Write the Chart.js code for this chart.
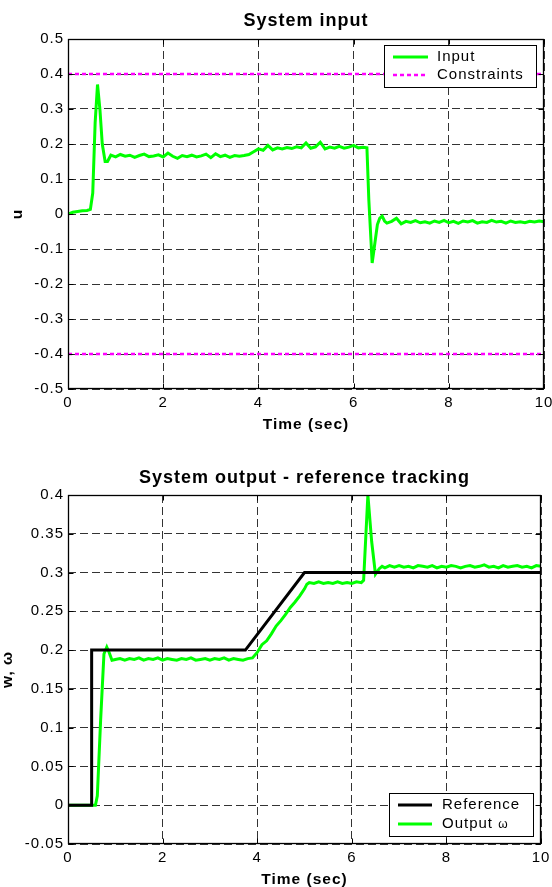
<!DOCTYPE html>
<html>
<head>
<meta charset="utf-8">
<title>System input / output</title>
<script src="https://cdn.jsdelivr.net/npm/chart.js@4.4.1/dist/chart.umd.min.js"></script>
<style>
    html, body { margin: 0; padding: 0; background: #fff; }
    #wrap { width: 552px; height: 887px; position: relative; }
    canvas { display: block; position: absolute; left: 0; }
    #inputChart { top: 0; }
    #outputChart { top: 440px; }
</style>
</head>
<body>
<div id="wrap">
    <canvas id="inputChart" width="552" height="440"></canvas>
    <canvas id="outputChart" width="552" height="447"></canvas>
</div>
<script>
// ---------- data ----------
const xTicks = [0, 2, 4, 6, 8, 10];
const xTickLabels = ["0", "2", "4", "6", "8", "10"];

const uTicks = [-0.5, -0.4, -0.3, -0.2, -0.1, 0, 0.1, 0.2, 0.3, 0.4, 0.5];
const uTickLabels = ["-0.5", "-0.4", "-0.3", "-0.2", "-0.1", "0", "0.1", "0.2", "0.3", "0.4", "0.5"];

const wTicks = [-0.05, 0, 0.05, 0.1, 0.15, 0.2, 0.25, 0.3, 0.35, 0.4];
const wTickLabels = ["-0.05", "0", "0.05", "0.1", "0.15", "0.2", "0.25", "0.3", "0.35", "0.4"];

// system input u(t)
const inputTime = [
    0, 0.1, 0.2, 0.3, 0.4, 0.47, 0.52, 0.57, 0.62, 0.67, 0.72, 0.78, 0.83, 0.9,
    1.0, 1.1, 1.2, 1.3, 1.4, 1.5, 1.6, 1.7, 1.8, 1.9,
    2.0, 2.1, 2.2, 2.3, 2.4, 2.5, 2.6, 2.7, 2.8, 2.9,
    3.0, 3.1, 3.2, 3.3, 3.4, 3.5, 3.6, 3.7, 3.8, 3.9,
    4.0, 4.1, 4.2, 4.3, 4.4, 4.5, 4.6, 4.7, 4.8, 4.9,
    5.0, 5.1, 5.2, 5.3, 5.4, 5.5, 5.6, 5.7, 5.8, 5.9,
    6.0, 6.1, 6.2, 6.28, 6.32, 6.39, 6.45, 6.5, 6.55, 6.6, 6.65, 6.7, 6.8, 6.9,
    7.0, 7.1, 7.2, 7.3, 7.4, 7.5, 7.6, 7.7, 7.8, 7.9,
    8.0, 8.1, 8.2, 8.3, 8.4, 8.5, 8.6, 8.7, 8.8, 8.9,
    9.0, 9.1, 9.2, 9.3, 9.4, 9.5, 9.6, 9.7, 9.8, 9.9, 10.0
];
const inputU = [
    0.000, 0.005, 0.007, 0.009, 0.010, 0.013, 0.060, 0.260, 0.370, 0.300, 0.200, 0.150, 0.150, 0.168,
    0.163, 0.170, 0.165, 0.168, 0.162, 0.167, 0.171, 0.164, 0.166, 0.169,
    0.163, 0.174, 0.165, 0.159, 0.167, 0.164, 0.168, 0.163, 0.166, 0.171,
    0.161, 0.172, 0.164, 0.168, 0.162, 0.167, 0.165, 0.167, 0.170, 0.178,
    0.186, 0.182, 0.196, 0.183, 0.189, 0.186, 0.190, 0.187, 0.192, 0.189,
    0.203, 0.188, 0.192, 0.205, 0.186, 0.191, 0.188, 0.193, 0.188, 0.191,
    0.196, 0.189, 0.191, 0.189, 0.040, -0.140, -0.080, -0.030, -0.012, -0.006, -0.020, -0.026, -0.021, -0.012,
    -0.028, -0.021, -0.024, -0.019, -0.025, -0.022, -0.026, -0.020, -0.024, -0.018,
    -0.025, -0.021, -0.027, -0.020, -0.023, -0.019, -0.026, -0.022, -0.024, -0.018,
    -0.023, -0.021, -0.026, -0.020, -0.024, -0.022, -0.025, -0.021, -0.023, -0.020, -0.022
];

// input constraints
const limitTime = [0, 10];
const upperLimit = [0.4, 0.4];
const lowerLimit = [-0.4, -0.4];

// reference w(t)
const refTime = [0, 0.5, 0.5, 3.75, 5.0, 10];
const refW = [0, 0, 0.2, 0.2, 0.3, 0.3];

// output omega(t)
const outputTime = [
    0, 0.58, 0.62, 0.69, 0.76, 0.82, 0.87, 0.93,
    1.0, 1.1, 1.2, 1.3, 1.4, 1.5, 1.6, 1.7, 1.8, 1.9,
    2.0, 2.1, 2.2, 2.3, 2.4, 2.5, 2.6, 2.7, 2.8, 2.9,
    3.0, 3.1, 3.2, 3.3, 3.4, 3.5, 3.6, 3.7, 3.8, 3.9,
    4.0, 4.1, 4.2, 4.3, 4.4, 4.5, 4.6, 4.7, 4.8, 4.9,
    5.0, 5.05, 5.1, 5.2, 5.3, 5.4, 5.5, 5.6, 5.7, 5.8, 5.9,
    6.0, 6.1, 6.2, 6.25, 6.34, 6.42, 6.5, 6.58, 6.64, 6.7, 6.8, 6.9,
    7.0, 7.1, 7.2, 7.3, 7.4, 7.5, 7.6, 7.7, 7.8, 7.9,
    8.0, 8.1, 8.2, 8.3, 8.4, 8.5, 8.6, 8.7, 8.8, 8.9,
    9.0, 9.1, 9.2, 9.3, 9.4, 9.5, 9.6, 9.7, 9.8, 9.9, 10.0
];
const outputW = [
    0, 0, 0.012, 0.110, 0.195, 0.204, 0.197, 0.187,
    0.188, 0.189, 0.187, 0.189, 0.188, 0.190, 0.187, 0.189, 0.188, 0.190,
    0.187, 0.189, 0.188, 0.187, 0.189, 0.188, 0.190, 0.187, 0.188, 0.189,
    0.187, 0.189, 0.188, 0.190, 0.187, 0.189, 0.188, 0.187, 0.189, 0.190,
    0.197, 0.207, 0.212, 0.221, 0.231, 0.238, 0.246, 0.255, 0.262, 0.270,
    0.279, 0.285, 0.287, 0.286, 0.288, 0.286, 0.287, 0.286, 0.288, 0.286, 0.287,
    0.286, 0.288, 0.287, 0.290, 0.400, 0.340, 0.298, 0.305, 0.308, 0.306, 0.309, 0.307,
    0.309, 0.307, 0.308, 0.306, 0.309, 0.308, 0.307, 0.309, 0.306, 0.308,
    0.307, 0.309, 0.308, 0.306, 0.308, 0.309, 0.307, 0.308, 0.310, 0.307,
    0.308, 0.306, 0.309, 0.307, 0.308, 0.309, 0.307, 0.308, 0.306, 0.309, 0.308
];

// ---------- helpers ----------
const FONT = "'Liberation Sans', Arial, Helvetica, sans-serif";
const GREEN = "#00ff00";

Chart.defaults.color = "#000";
Chart.defaults.font.family = FONT;

function toPoints(xs, ys) {
    return xs.map((x, i) => ({ x: x, y: ys[i] }));
}

// MATLAB-ish text is a little wider than plain Arial
const spacing = {
    id: "spacing",
    beforeUpdate(chart) { chart.ctx.letterSpacing = "1px"; },
    beforeDraw(chart) { chart.ctx.letterSpacing = "1px"; }
};

// centre the title over the axes, not over the whole canvas
const titleOverAxes = {
    id: "titleOverAxes",
    afterLayout(chart) {
        const tb = chart.titleBlock;
        if (!tb) return;
        tb.left = chart.chartArea.left;
        tb.right = chart.chartArea.right;
        tb.width = tb.right - tb.left;
    }
};

// solid box around the axes plus inward tick marks
const frame = {
    id: "frame",
    afterDatasetsDraw(chart) {
        const { ctx, chartArea, scales } = chart;
        const l = Math.round(chartArea.left) + 0.5;
        const r = Math.round(chartArea.right) - 0.5;
        const t = Math.round(chartArea.top) + 0.5;
        const b = Math.round(chartArea.bottom) - 0.5;
        ctx.save();
        ctx.setLineDash([]);
        ctx.strokeStyle = "#000";
        ctx.lineWidth = 1;
        ctx.beginPath();
        scales.x.ticks.forEach(tick => {
            const px = Math.round(scales.x.getPixelForValue(tick.value)) + 0.5;
            ctx.moveTo(px, b); ctx.lineTo(px, b - 5);
            ctx.moveTo(px, t); ctx.lineTo(px, t + 5);
        });
        scales.y.ticks.forEach(tick => {
            const py = Math.round(scales.y.getPixelForValue(tick.value)) + 0.5;
            ctx.moveTo(l, py); ctx.lineTo(l + 5, py);
            ctx.moveTo(r, py); ctx.lineTo(r - 5, py);
        });
        ctx.stroke();
        ctx.lineWidth = 1.3;
        ctx.strokeRect(l, t, r - l, b - t);
        ctx.restore();
    }
};

// boxed legend inside the axes, like a MATLAB legend
const boxLegend = {
    id: "boxLegend",
    afterDraw(chart, args, opts) {
        if (!opts.items) return;
        const { ctx, chartArea } = chart;
        const left = Math.round(chartArea.right - opts.right - opts.width);
        const top = Math.round(opts.top != null
            ? chartArea.top + opts.top
            : chartArea.bottom - opts.bottom - opts.height);

        ctx.save();
        ctx.letterSpacing = "1px";
        ctx.fillStyle = "#fff";
        ctx.fillRect(left, top, opts.width, opts.height);
        ctx.strokeStyle = "#000";
        ctx.lineWidth = 1;
        ctx.setLineDash([]);
        ctx.strokeRect(left + 0.5, top + 0.5, opts.width, opts.height);

        opts.items.forEach((dsIndex, i) => {
            const ds = chart.data.datasets[dsIndex];
            const y = top + opts.rowTop + i * opts.rowGap;

            ctx.beginPath();
            ctx.setLineDash(ds.borderDash || []);
            ctx.strokeStyle = ds.borderColor;
            ctx.lineWidth = ds.borderWidth;
            ctx.moveTo(left + 9, y);
            ctx.lineTo(left + 9 + opts.sample, y);
            ctx.stroke();
            ctx.setLineDash([]);

            ctx.fillStyle = "#000";
            ctx.textBaseline = "middle";
            ctx.textAlign = "left";
            const parts = ds.label.split("ω");
            ctx.font = "15px " + FONT;
            ctx.fillText(parts[0], left + 53, y);
            if (parts.length > 1) {
                const w = ctx.measureText(parts[0]).width;
                ctx.font = "12px " + FONT;
                ctx.fillText("ω", left + 53 + w, y + 1);
            }
        });
        ctx.restore();
    }
};

function xScale(height, titlePad) {
    return {
        type: "linear",
        min: 0,
        max: 10,
        afterBuildTicks: axis => { axis.ticks = xTicks.map(v => ({ value: v })); },
        afterFit: axis => {
            axis.height = height;
            axis.paddingLeft = 0;
            axis.paddingRight = 0;
        },
        ticks: {
            autoSkip: false,
            maxRotation: 0,
            padding: 5,
            font: { size: 15 },
            callback: (v, i) => xTickLabels[i]
        },
        grid: { color: "rgba(0,0,0,0.8)", lineWidth: 1, drawTicks: false },
        border: { display: false, dash: [8, 4] },
        title: {
            display: true,
            text: "Time (sec)",
            font: { size: 15.5, weight: "bold", lineHeight: 1 },
            padding: { top: 0, bottom: titlePad }
        }
    };
}

function yScale(ticks, labels, title, titlePad) {
    return {
        type: "linear",
        min: ticks[0],
        max: ticks[ticks.length - 1],
        afterBuildTicks: axis => { axis.ticks = ticks.map(v => ({ value: v })); },
        afterFit: axis => {
            axis.width = 68;
            axis.paddingTop = 0;
            axis.paddingBottom = 0;
        },
        ticks: {
            autoSkip: false,
            padding: 4,
            font: { size: 15 },
            callback: (v, i) => labels[i]
        },
        grid: { color: "rgba(0,0,0,0.8)", lineWidth: 1, drawTicks: false },
        border: { display: false, dash: [8, 4] },
        title: {
            display: true,
            text: title,
            font: { size: 15.5, weight: "bold", lineHeight: 1 },
            padding: { top: titlePad, bottom: 0 }
        }
    };
}

// ---------- top: system input ----------
new Chart(document.getElementById("inputChart"), {
    type: "line",
    data: {
        datasets: [
            {
                label: "Input",
                data: toPoints(inputTime, inputU),
                borderColor: GREEN,
                borderWidth: 3,
                pointRadius: 0
            },
            {
                label: "Constraints",
                data: toPoints(limitTime, upperLimit),
                borderColor: "#ff00ff",
                borderWidth: 2.5,
                borderDash: [4, 3],
                pointRadius: 0
            },
            {
                label: "Constraints",
                data: toPoints(limitTime, lowerLimit),
                borderColor: "#ff00ff",
                borderWidth: 2.5,
                borderDash: [4, 3],
                pointRadius: 0
            }
        ]
    },
    options: {
        responsive: false,
        animation: false,
        layout: { padding: { left: 0, right: 8, top: 0, bottom: 0 } },
        plugins: {
            legend: { display: false },
            tooltip: { enabled: false },
            title: {
                display: true,
                text: "System input",
                font: { size: 18, weight: "bold", lineHeight: 1 },
                padding: { top: 12, bottom: 9 }
            },
            boxLegend: {
                items: [0, 1],
                width: 152, height: 42,
                right: 8, top: 6,
                rowTop: 12, rowGap: 18,
                sample: 35
            }
        },
        scales: {
            x: xScale(51, 7.25),
            y: yScale(uTicks, uTickLabels, "u", 9.75)
        }
    },
    plugins: [spacing, titleOverAxes, frame, boxLegend]
});

// ---------- bottom: reference tracking ----------
new Chart(document.getElementById("outputChart"), {
    type: "line",
    data: {
        datasets: [
            {
                label: "Reference",
                data: toPoints(refTime, refW),
                borderColor: "#000",
                borderWidth: 3,
                pointRadius: 0
            },
            {
                label: "Output ω",
                data: toPoints(outputTime, outputW),
                borderColor: GREEN,
                borderWidth: 3,
                pointRadius: 0
            }
        ]
    },
    options: {
        responsive: false,
        animation: false,
        layout: { padding: { left: 0, right: 11, top: 0, bottom: 0 } },
        plugins: {
            legend: { display: false },
            tooltip: { enabled: false },
            title: {
                display: true,
                text: "System output - reference tracking",
                font: { size: 18, weight: "bold", lineHeight: 1 },
                padding: { top: 29, bottom: 8 }
            },
            boxLegend: {
                items: [0, 1],
                width: 144, height: 43,
                right: 8, bottom: 8,
                rowTop: 12, rowGap: 19,
                sample: 34
            }
        },
        scales: {
            x: xScale(43, 0),
            y: yScale(wTicks, wTickLabels, "w, ω", 0)
        }
    },
    plugins: [spacing, titleOverAxes, frame, boxLegend]
});
</script>
</body>
</html>
